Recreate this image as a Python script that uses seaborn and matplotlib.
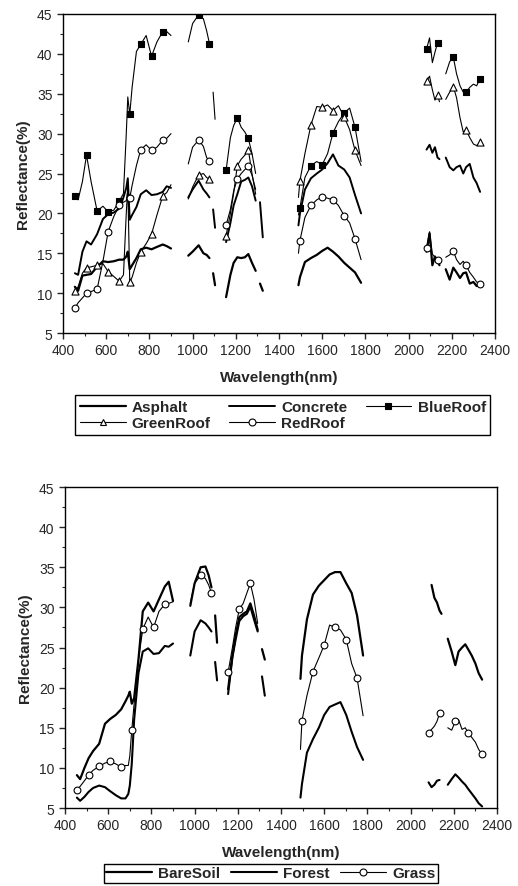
import numpy as np
import pandas as pd
import matplotlib
matplotlib.use("Agg")
import matplotlib.pyplot as plt
from matplotlib.lines import Line2D
from matplotlib.ticker import MultipleLocator
import seaborn as sns

nan = np.nan

# wavelength grid (nm), one list per gap-free stretch of the spectrum
bands = [
    [455, 470, 490, 509, 530, 558, 585, 609, 635, 660, 680, 693, 700, 709, 720, 740, 760, 785, 810, 835, 862, 880, 900],
    [980, 1000, 1028, 1050, 1065, 1078],
    [1095, 1104],
    [1155, 1175, 1190, 1207, 1225, 1242, 1258, 1275, 1292],
    [1312, 1325],
    [1490, 1497, 1520, 1548, 1575, 1600, 1625, 1650, 1675, 1702, 1727, 1752, 1780],
    [2083, 2097, 2110, 2122, 2134, 2143],
    [2172, 2190, 2207, 2222, 2238, 2253, 2266, 2283, 2300, 2315, 2331],
]
# wavelengths that carry a symbol on the marked curves
marker_wl = [455, 509, 558, 609, 660, 709, 760, 810, 862, 1028, 1078, 1155, 1207, 1258,
             1497, 1548, 1600, 1650, 1702, 1752, 2083, 2134, 2207, 2266, 2331]

# ---- top panel: urban materials (reflectance %)
asphalt = [10.8, 10.3, 12.2, 12.3, 12.4, 13.3, 14.0, 13.9, 14.0, 14.2, 14.2, 14.6, 15.2, 13.0, 13.5, 14.4, 15.5, 15.7, 15.5, 15.8, 16.1, 15.9, 15.6,
           14.7, 15.2, 16.0, 15.0, 14.8, 14.4,
           12.5, 11.0,
           9.5, 12.3, 13.8, 14.5, 14.4, 14.5, 14.9, 13.8, 12.8,
           11.2, 10.3,
           11.0, 12.0, 13.9, 14.4, 14.8, 15.3, 15.7, 15.2, 14.6, 13.8, 13.2, 12.6, 11.3,
           15.2, 17.5, 13.5, 14.6, 14.0, 13.5,
           13.0, 11.7, 13.2, 12.6, 11.9, 12.5, 12.6, 11.2, 11.4, 10.9, 11.0]
concrete = [12.5, 12.3, 15.2, 16.5, 16.1, 17.4, 19.3, 19.9, 20.1, 20.6, 22.0, 23.2, 24.4, 19.2, 19.8, 20.8, 22.4, 22.9, 22.3, 22.4, 22.7, 23.4, 23.2,
            22.0, 23.0, 24.1, 23.0, 22.5, 22.0,
            20.5, 18.2,
            16.4, 18.8, 21.0, 22.4, 24.0, 24.2, 24.5, 23.4, 21.6,
            21.4, 17.0,
            18.5, 20.0, 23.0, 24.4, 25.0, 25.5, 26.3, 27.4, 26.0, 25.5, 24.5, 22.3, 20.0,
            28.0, 28.6, 27.6, 28.3, 27.0, 26.8,
            27.0, 25.8, 25.4, 25.8, 26.0, 25.0, 25.8, 26.2, 24.5, 23.8, 22.7]
blue_roof = [22.2, 21.7, 24.0, 27.3, 24.0, 20.3, 20.9, 20.2, 20.4, 21.5, 22.5, 30.0, 34.6, 32.4, 35.8, 40.3, 41.2, 42.3, 39.7, 41.5, 42.8, 42.8, 42.3,
             41.5, 43.8, 44.9, 44.4, 42.9, 41.3,
             35.2, 31.8,
             25.4, 29.5, 31.0, 32.0, 30.8, 30.2, 29.4, 27.5, 25.0,
             nan, nan,
             19.8, 20.7, 24.5, 26.0, 26.5, 26.1, 27.5, 30.1, 31.5, 32.6, 33.2, 30.8, 26.5,
             40.6, 42.0, 38.9, 40.2, 41.4, 41.0,
             37.5, 39.0, 39.6, 37.5, 36.0, 35.2, 35.2, 35.8, 36.2, 36.0, 36.9]
green_roof = [10.3, 10.8, 12.5, 13.2, 13.3, 13.5, 13.7, 12.7, 12.1, 11.5, 12.3, 20.0, 23.5, 11.4, 12.0, 13.8, 15.2, 16.2, 17.4, 19.8, 22.2, 22.6, 23.6,
              21.8, 23.3, 24.8, 25.0, 24.5, 24.3,
              nan, nan,
              17.2, 20.0, 22.5, 26.0, 26.8, 27.3, 28.0, 25.0, 22.4,
              nan, nan,
              22.0, 24.1, 27.5, 31.1, 33.4, 33.3, 33.6, 32.9, 33.5, 32.1, 30.5, 27.9, 26.0,
              36.6, 37.2, 35.5, 34.2, 34.8, 34.0,
              34.3, 35.2, 35.9, 34.5, 32.0, 30.2, 30.5, 29.5, 28.7, 28.5, 28.9]
red_roof = [8.1, 8.8, 9.4, 10.0, 10.2, 10.5, 14.0, 17.7, 19.6, 21.0, 21.4, 21.6, 22.8, 21.9, 23.5, 26.0, 28.0, 28.6, 27.9, 28.3, 29.2, 29.4, 30.0,
            26.2, 28.3, 29.2, 28.4, 27.0, 26.6,
            nan, nan,
            18.5, 20.5, 22.8, 24.3, 25.0, 25.5, 25.9, 24.8, 23.0,
            nan, nan,
            15.0, 16.6, 19.5, 21.0, 21.7, 22.1, 21.9, 21.7, 21.0, 19.7, 18.8, 16.8, 14.2,
            15.6, 17.7, 14.9, 14.5, 14.1, 14.3,
            14.5, 14.8, 15.3, 14.2, 13.6, 14.0, 13.5, 12.6, 12.0, 11.4, 11.2]

# ---- bottom panel: natural surfaces
bare_soil = [9.1, 8.6, 10.0, 11.2, 12.1, 13.0, 15.5, 16.1, 16.6, 17.3, 18.3, 19.0, 19.5, 18.0, 18.7, 23.5, 29.5, 30.6, 29.5, 31.0, 32.6, 33.2, 30.8,
             30.2, 33.0, 35.0, 35.1, 34.0, 32.5,
             29.0, 25.6,
             19.8, 24.0, 26.5, 28.8, 29.2, 29.5, 30.5, 29.0, 27.2,
             24.8, 23.5,
             21.1, 24.0, 28.5, 31.6, 32.7, 33.4, 34.1, 34.4, 34.4, 33.0, 31.8, 29.0, 24.0,
             nan, 32.8, 31.2, 30.6, 29.6, 29.2,
             26.1, 24.5, 22.8, 24.5, 25.0, 25.4, 24.8, 24.0, 23.0, 21.8, 21.0]
forest = [6.3, 5.9, 6.4, 7.0, 7.5, 7.8, 7.6, 7.1, 6.6, 6.2, 6.2, 6.75, 7.8, 10.5, 16.0, 21.8, 24.5, 24.9, 24.2, 24.3, 25.2, 25.1, 25.5,
          24.0, 27.0, 28.4, 28.0, 27.5, 27.0,
          23.2, 20.9,
          19.2, 23.8, 26.0, 28.3, 28.9, 29.2, 30.1, 28.5, 27.0,
          21.4, 19.0,
          6.3, 8.0, 11.9, 13.6, 15.0, 16.6, 17.6, 17.9, 18.2, 16.6, 14.5, 12.6, 11.0,
          8.2, 7.6, 7.9, 8.4, 8.5, nan,
          7.9, 8.6, 9.2, 8.8, 8.3, 7.9, 7.4, 6.8, 6.2, 5.6, 5.2]
grass = [7.2, 7.7, 8.4, 9.1, 9.7, 10.2, 10.6, 10.8, 10.5, 10.1, 10.3, 10.3, 11.5, 14.7, 18.0, 23.5, 27.3, 28.8, 27.5, 29.5, 30.4, 30.5, 30.7,
         30.5, 33.0, 34.0, 33.6, 32.8, 31.8,
         nan, nan,
         21.9, 25.0, 27.5, 29.8, 30.5, 31.8, 33.0, 31.0, 28.0,
         nan, nan,
         12.3, 15.9, 19.0, 22.0, 23.7, 25.3, 27.8, 27.5, 27.2, 26.0, 23.0, 21.2, 16.5,
         14.4, 14.8, 15.2, 15.8, 16.8, nan,
         15.0, 14.7, 15.8, 16.0, 14.8, 15.0, 14.4, 13.8, 13.2, 12.3, 11.7]

sns.set_style("ticks")
plt.rcParams['font.family'] = ['Liberation Sans', 'DejaVu Sans']

wl = np.concatenate(bands)
band_id = np.repeat(np.arange(len(bands)), [len(b) for b in bands])


def draw(ax, vals, lw, marker=None, face=None, size=26):
    d = pd.DataFrame({"wl": wl, "refl": vals, "band": band_id}).dropna()
    sns.lineplot(data=d, x="wl", y="refl", units="band", estimator=None, sort=False,
                 color="black", linewidth=lw, ax=ax, legend=False)
    if marker:
        m = d[d["wl"].isin(marker_wl)]
        sns.scatterplot(data=m, x="wl", y="refl", marker=marker, s=size, color=face,
                        edgecolor="black", linewidth=0.8, ax=ax, legend=False, zorder=3)


def style_axes(ax):
    ax.set_xlim(400, 2400)
    ax.set_ylim(5, 45)
    ax.xaxis.set_major_locator(MultipleLocator(200))
    ax.xaxis.set_minor_locator(MultipleLocator(100))
    ax.yaxis.set_major_locator(MultipleLocator(5))
    ax.yaxis.set_minor_locator(MultipleLocator(2.5))
    ax.tick_params(which="major", direction="out", length=4, width=1, labelsize=10, pad=3.5)
    ax.tick_params(which="minor", direction="out", length=2.5, width=0.8)
    for s in ax.spines.values():
        s.set_visible(True)
        s.set_linewidth(1.0)
        s.set_color("black")
    ax.set_xlabel("Wavelength(nm)", fontsize=11, fontweight="bold", labelpad=9)
    ax.set_ylabel("Reflectance(%)", fontsize=11, fontweight="bold", labelpad=5)


fig = plt.figure(figsize=(5.18, 8.87), dpi=100)
ax1 = fig.add_axes([0.1216, 0.6234, 0.834, 0.3597])
ax2 = fig.add_axes([0.1255, 0.0879, 0.834, 0.3619])

thin = 0.8
draw(ax1, asphalt, 1.6)
draw(ax1, concrete, 1.4)
draw(ax1, blue_roof, thin, "s", "black", 20)
draw(ax1, green_roof, thin, "^", "white", 26)
draw(ax1, red_roof, thin, "o", "white", 24)
style_axes(ax1)

draw(ax2, bare_soil, 1.6)
draw(ax2, forest, 1.5)
draw(ax2, grass, thin, "o", "white", 24)
style_axes(ax2)

mk = dict(color="black", markeredgecolor="black", markersize=5, markeredgewidth=0.8)
h_asph = Line2D([], [], color="black", lw=1.6, label="Asphalt")
h_conc = Line2D([], [], color="black", lw=1.4, label="Concrete")
h_blue = Line2D([], [], lw=thin, marker="s", markerfacecolor="black", label="BlueRoof", **mk)
h_green = Line2D([], [], lw=thin, marker="^", markerfacecolor="white", label="GreenRoof", **mk)
h_red = Line2D([], [], lw=thin, marker="o", markerfacecolor="white", label="RedRoof", **mk)

leg_font = {"weight": "bold", "size": 11}
# column-wise fill so rows read Asphalt/Concrete/BlueRoof then GreenRoof/RedRoof
fig.legend(handles=[h_asph, h_green, h_conc, h_red, h_blue], ncol=3, loc="center",
           bbox_to_anchor=(0.546, 0.531), prop=leg_font, handlelength=3.0,
           handletextpad=0.4, columnspacing=1.2, labelspacing=0.15, borderpad=0.3,
           borderaxespad=0, frameon=True, fancybox=False, edgecolor="black", framealpha=1)

h_soil = Line2D([], [], color="black", lw=1.6, label="BareSoil")
h_forest = Line2D([], [], color="black", lw=1.5, label="Forest")
h_grass = Line2D([], [], lw=thin, marker="o", markerfacecolor="white", label="Grass", **mk)
fig.legend(handles=[h_soil, h_forest, h_grass], ncol=3, loc="center",
           bbox_to_anchor=(0.523, 0.0141), prop=leg_font, handlelength=3.0,
           handletextpad=0.4, columnspacing=0.7, borderpad=0.15, borderaxespad=0,
           frameon=True, fancybox=False, edgecolor="black", framealpha=1)

fig.savefig("out.png", dpi=100)
